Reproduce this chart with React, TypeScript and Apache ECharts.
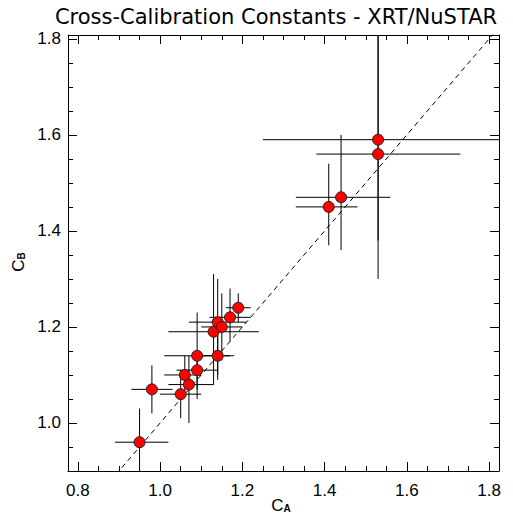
import React, { useEffect, useRef } from "react";
import * as echarts from "echarts";

// ---- data ----
const cA = [0.95, 0.98, 1.05, 1.07, 1.06, 1.09, 1.09, 1.14, 1.13, 1.14, 1.15, 1.17, 1.19, 1.41, 1.44, 1.53, 1.53];
const cB = [0.96, 1.07, 1.06, 1.08, 1.10, 1.11, 1.14, 1.14, 1.19, 1.21, 1.20, 1.22, 1.24, 1.45, 1.47, 1.56, 1.59];
const cALow = [0.89, 0.93, 1.00, 1.02, 1.01, 1.04, 1.01, 1.09, 1.02, 1.07, 1.10, 1.12, 1.16, 1.33, 1.33, 1.38, 1.25];
const cAHigh = [1.02, 1.03, 1.10, 1.13, 1.10, 1.14, 1.17, 1.18, 1.24, 1.21, 1.20, 1.22, 1.22, 1.48, 1.56, 1.73, 1.83];
const cBLow = [0.89, 1.02, 1.01, 1.00, 1.06, 1.07, 1.05, 1.09, 1.08, 1.10, 1.13, 1.17, 1.21, 1.37, 1.36, 1.30, 1.38];
const cBHigh = [1.03, 1.12, 1.11, 1.14, 1.14, 1.15, 1.23, 1.19, 1.31, 1.30, 1.27, 1.28, 1.27, 1.54, 1.60, 1.82, 1.85];

const diagonal = [0.85, 1.85];

const xMajorTicks = [0.8, 1.0, 1.2, 1.4, 1.6, 1.8];
const xMinorTicks = [0.85, 0.9, 0.95, 1.05, 1.1, 1.15, 1.25, 1.3, 1.35, 1.45, 1.5, 1.55, 1.65, 1.7, 1.75];
const yMajorTicks = [1.0, 1.2, 1.4, 1.6, 1.8];
const yMinorTicks = [0.95, 1.05, 1.1, 1.15, 1.25, 1.3, 1.35, 1.45, 1.5, 1.55, 1.65, 1.7, 1.75];

const titleText = "Cross-Calibration Constants - XRT/NuSTAR";

const X_MIN = 0.776;
const X_MAX = 1.824;
const Y_MIN = 0.9;
const Y_MAX = 1.808;

const FONT = "Liberation Sans, Helvetica, Arial, sans-serif";

function makeX(position: "bottom" | "top", ticks: number[], len: number, labels: boolean, line: boolean) {
  return {
    type: "value",
    position,
    min: X_MIN,
    max: X_MAX,
    axisLine: { show: line, onZero: false, lineStyle: { color: "#000", width: 1 } },
    axisTick: { show: true, inside: true, length: len, customValues: ticks, lineStyle: { color: "#000", width: 1 } },
    axisLabel: {
      show: labels,
      customValues: ticks,
      margin: 11,
      color: "#000",
      fontSize: 17,
      fontFamily: FONT,
      formatter: (v: number) => v.toFixed(1),
    },
    splitLine: { show: false },
  };
}

function makeY(position: "left" | "right", ticks: number[], len: number, labels: boolean, line: boolean) {
  return {
    type: "value",
    position,
    min: Y_MIN,
    max: Y_MAX,
    axisLine: { show: line, onZero: false, lineStyle: { color: "#000", width: 1 } },
    axisTick: { show: true, inside: true, length: len, customValues: ticks, lineStyle: { color: "#000", width: 1 } },
    axisLabel: {
      show: labels,
      customValues: ticks,
      margin: 7,
      color: "#000",
      fontSize: 17,
      fontFamily: FONT,
      formatter: (v: number) => v.toFixed(1),
    },
    splitLine: { show: false },
  };
}

export default function App() {
  const ref = useRef<HTMLDivElement>(null);
  useEffect(() => {
    if (!ref.current) return;
    const chart = echarts.init(ref.current, null, { renderer: "svg" });
    const errData = cA.map((x, i) => [x, cB[i], cALow[i], cAHigh[i], cBLow[i], cBHigh[i]]);
    const option: any = {
      animation: false,
      backgroundColor: "#fff",
      grid: { left: 68, top: 35, width: 431, height: 436, containLabel: false },
      xAxis: [
        makeX("bottom", xMajorTicks, 9, true, true),
        makeX("bottom", xMinorTicks, 5, false, false),
        makeX("top", xMajorTicks, 9, false, true),
        makeX("top", xMinorTicks, 5, false, false),
      ],
      yAxis: [
        makeY("left", yMajorTicks, 9, true, true),
        makeY("left", yMinorTicks, 5, false, false),
        makeY("right", yMajorTicks, 9, false, true),
        makeY("right", yMinorTicks, 5, false, false),
      ],
      graphic: [
        {
          type: "text",
          x: 276,
          y: 17,
          style: {
            text: titleText,
            fontSize: 21,
            fontFamily: "DejaVu Sans, sans-serif",
            fill: "#000",
            align: "center",
            verticalAlign: "middle",
          },
        },
        {
          type: "text",
          x: 281,
          y: 505,
          style: {
            text: "{m|C}{s|A}",
            align: "center",
            verticalAlign: "middle",
            rich: {
              m: { fontSize: 17, fontFamily: FONT, fill: "#000" },
              s: { fontSize: 10, fontFamily: FONT, fill: "#000", fontWeight: "bold", verticalAlign: "bottom", padding: [6, 0, 0, 0] },
            },
          },
        },
        {
          type: "text",
          x: 18,
          y: 262,
          rotation: Math.PI / 2,
          style: {
            text: "{m|C}{s|B}",
            align: "center",
            verticalAlign: "middle",
            rich: {
              m: { fontSize: 17, fontFamily: FONT, fill: "#000" },
              s: { fontSize: 10, fontFamily: FONT, fill: "#000", fontWeight: "bold", verticalAlign: "bottom", padding: [6, 0, 0, 0] },
            },
          },
        },
      ],
      series: [
        {
          type: "line",
          data: diagonal.map((v) => [v, v]),
          showSymbol: false,
          symbol: "none",
          clip: true,
          lineStyle: { color: "#000", width: 1, type: [5, 4] },
          z: 1,
        },
        {
          type: "custom",
          data: errData,
          z: 2,
          renderItem: (params: any, api: any) => {
            const cs = params.coordSys;
            const cx = (v: number) => Math.max(cs.x, Math.min(cs.x + cs.width, v));
            const cy = (v: number) => Math.max(cs.y, Math.min(cs.y + cs.height, v));
            const x = api.value(0), y = api.value(1);
            const l = api.coord([api.value(2), y]);
            const r = api.coord([api.value(3), y]);
            const b = api.coord([x, api.value(4)]);
            const t = api.coord([x, api.value(5)]);
            return {
              type: "group",
              children: [
                { type: "line", shape: { x1: cx(l[0]), y1: cy(l[1]), x2: cx(r[0]), y2: cy(r[1]) }, style: { stroke: "#000", lineWidth: 1 } },
                { type: "line", shape: { x1: cx(b[0]), y1: cy(b[1]), x2: cx(t[0]), y2: cy(t[1]) }, style: { stroke: "#000", lineWidth: 1 } },
              ],
            };
          },
        },
        {
          type: "scatter",
          data: cA.map((x, i) => [x, cB[i]]),
          symbol: "circle",
          symbolSize: 11,
          itemStyle: { color: "#ff0000", borderColor: "#222", borderWidth: 1, opacity: 1 },
          z: 3,
        },
      ],
    };
    chart.setOption(option);
    return () => chart.dispose();
  }, []);
  return <div ref={ref} style={{ width: 513, height: 520, position: "absolute", left: 0, top: 0 }} />;
}
